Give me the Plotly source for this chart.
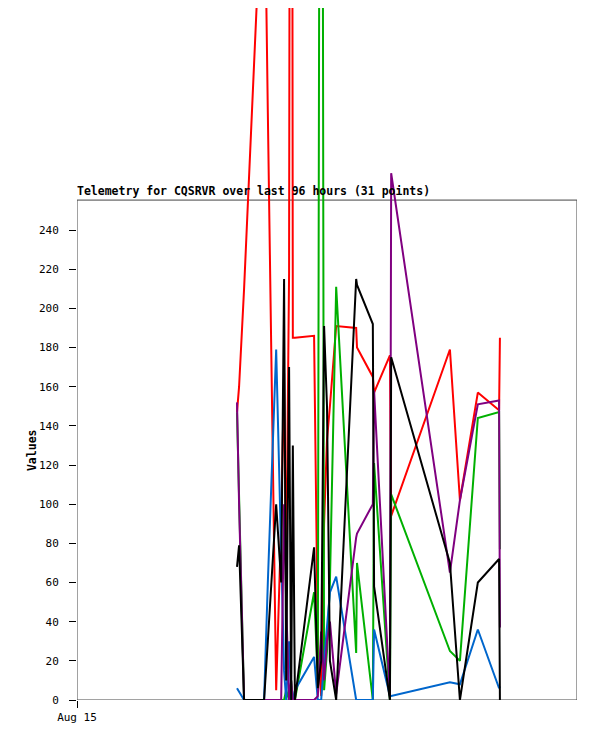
import plotly.graph_objects as go

# hours since Aug 15 00:00
hours = [38.4, 38.9, 40.1, 44.9, 45.8, 47.8, 49.0, 49.7, 50.2, 50.9,
         51.4, 51.8, 52.3, 56.9, 57.8, 58.6, 59.3, 60.0, 60.7, 62.2,
         67.0, 67.2, 71.0, 71.3, 75.1, 75.4, 89.5, 91.9, 96.2, 101.3, 101.5]

red = [147, 160, 210, 440, 300, 5, 90, 167, 60, 218,
       950, 185, 185, 186, 30, 2, 90, 133, 150, 191,
       190, 180, 165, 157, 176, 94, 179, 102, 157, 148, 185]
green = [147, 100, 0, 0, 0, 0, 0, 0, 5, 0,
         10, 0, 0, 55, 10, 900, 5, 25, 60, 211,
         24, 70, 0, 121, 0, 105, 25, 20, 144, 147, 77]
blue = [6, 4, 0, 0, 60, 179, 80, 15, 0, 30,
        0, 0, 5, 22, 0, 0, 20, 40, 55, 63,
        0, 0, 0, 36, 2, 2, 9, 8, 36, 6, 7]
purple = [152, 100, 0, 0, 0, 0, 0, 100, 50, 0,
          10, 0, 0, 0, 2, 35, 10, 30, 40, 3,
          83, 85, 100, 158, 2, 269, 65, 102, 151, 153, 37]
black = [68, 79, 0, 0, 30, 100, 60, 215, 10, 170,
         0, 130, 0, 78, 6, 20, 191, 150, 20, 0,
         215, 212, 192, 58, 0, 175, 70, 0, 60, 72, 0]

series = [("red", red, "#ff0000"), ("green", green, "#00b000"),
          ("blue", blue, "#0066cc"), ("purple", purple, "#800080"),
          ("black", black, "#000000")]

y_ticks = list(range(0, 241, 20))
box_top = 255.3

fig = go.Figure()
for name, vals, col in series:
    fig.add_trace(go.Scatter(x=hours, y=vals, mode="lines", name=name,
                             line=dict(color=col, width=2), hoverinfo="skip"))

mono = "DejaVu Sans Mono"
# page body has an 8px margin, so the figure is sized to fit inside it
fig.update_layout(
    width=581, height=725,
    margin=dict(l=69, r=12, t=0, b=33),
    paper_bgcolor="white", plot_bgcolor="white",
    showlegend=False,
    font=dict(family=mono, size=11, color="black"),
    xaxis=dict(range=[0, 120], showgrid=False, zeroline=False, showline=False,
               tickvals=[0], ticktext=["Aug 15"], ticks="outside", ticklen=7,
               tickcolor="black", fixedrange=True),
    yaxis=dict(range=[0, 353.4], showgrid=False, zeroline=False, showline=False,
               tickvals=y_ticks, ticks="outside", ticklen=7, tickcolor="black",
               ticklabelstandoff=8, fixedrange=True),
    shapes=[dict(type="rect", xref="x", yref="y", x0=0, x1=120, y0=0, y1=box_top,
                 line=dict(color="#444444", width=1), layer="below")],
    annotations=[
        dict(text="<b>Telemetry for CQSRVR over last 96 hours (31 points)</b>",
             xref="x", yref="y", x=0, y=box_top, xanchor="left", yanchor="bottom",
             showarrow=False, font=dict(family=mono, size=11.5), xshift=-2),
        dict(text="<b>Values</b>", xref="paper", yref="y", x=-0.09, y=box_top / 2,
             xanchor="center", yanchor="middle",
             textangle=-90, showarrow=False, font=dict(family=mono, size=11.5)),
    ],
)

fig.write_html("out.html", config={"displayModeBar": False})
